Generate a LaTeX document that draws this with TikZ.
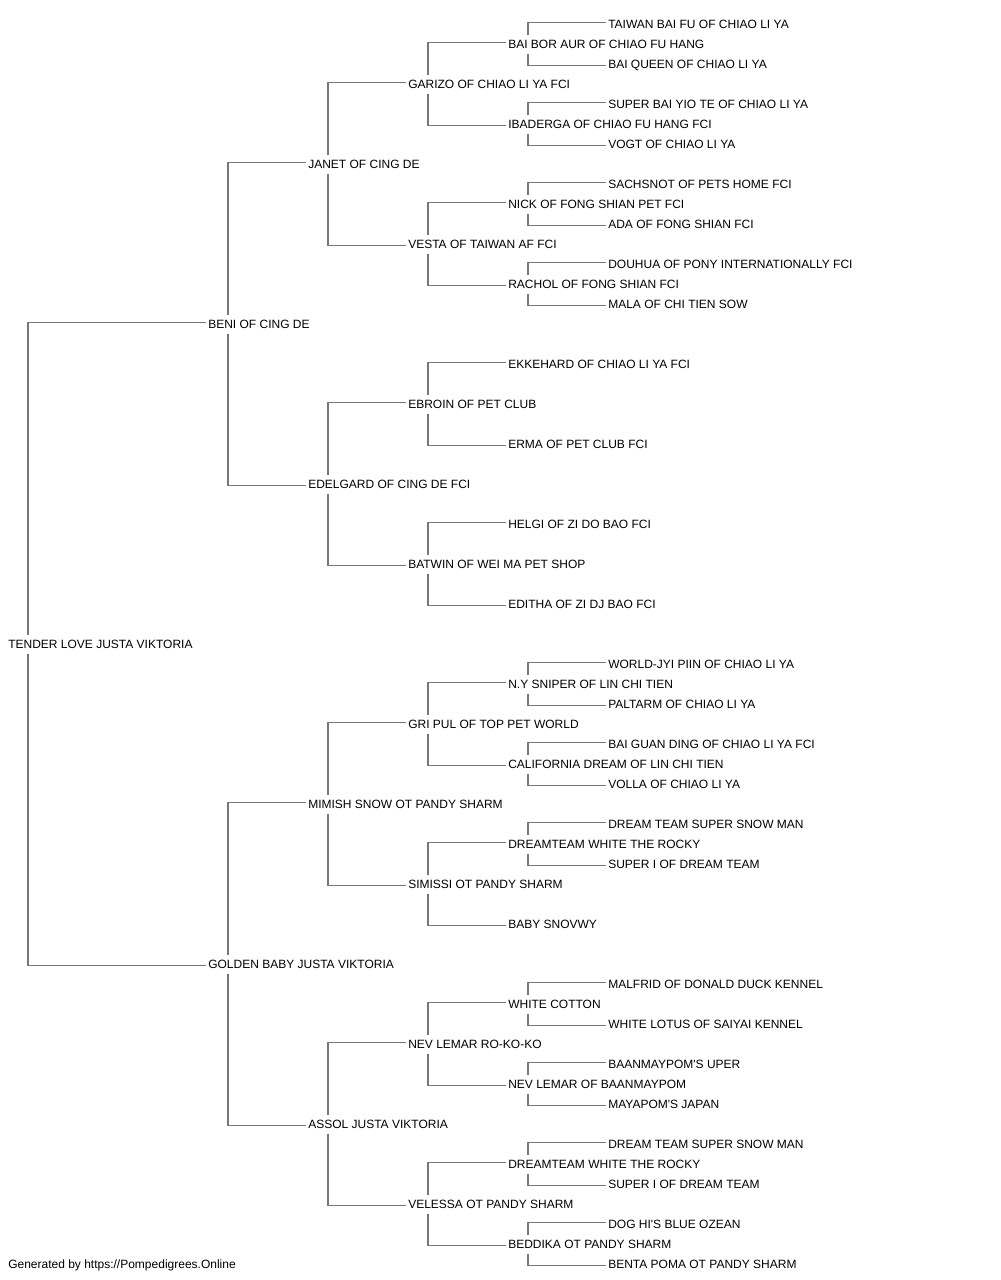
\documentclass[tikz,border=0pt]{standalone}
\usepackage{fontspec}
\newfontfamily\lab{Liberation Sans}
\usetikzlibrary{calc}
\definecolor{lncol}{HTML}{777777}
\tikzset{
  lbl/.style={anchor=west,inner sep=0pt,text height=6.45pt,text depth=0pt,font=\lab\fontsize{9pt}{11pt}\selectfont},
  ln/.style={draw=lncol,line width=1.45pt},
}
\newcommand\lb[4]{\node[lbl] (#1) at (#2,#3+0.8) {#4};}
\newcommand\conn[3]{%
  \draw[ln] ($(#2.west)+(-2.5,-1.8)$) -| ($(#1.west)+(20,-9)$);
  \draw[ln] ($(#1.west)+(20,10)$) |- ($(#3.west)+(-2.5,1.2)$);
}
\begin{document}
\begin{tikzpicture}[x=0.75pt,y=-0.75pt]
\useasboundingbox (0,0) rectangle (1000,1280);
% level 0
\lb{a}{8}{643.5}{TENDER LOVE JUSTA VIKTORIA}
% level 1
\lb{b1}{208}{323.5}{BENI OF CING DE}
\lb{b2}{208}{963.5}{GOLDEN BABY JUSTA VIKTORIA}
% level 2
\lb{c1}{308}{163.5}{JANET OF CING DE}
\lb{c2}{308}{483.5}{EDELGARD OF CING DE FCI}
\lb{c3}{308}{803.5}{MIMISH SNOW OT PANDY SHARM}
\lb{c4}{308}{1123.5}{ASSOL JUSTA VIKTORIA}
% level 3
\lb{d1}{408}{83.5}{GARIZO OF CHIAO LI YA FCI}
\lb{d2}{408}{243.5}{VESTA OF TAIWAN AF FCI}
\lb{d3}{408}{403.5}{EBROIN OF PET CLUB}
\lb{d4}{408}{563.5}{BATWIN OF WEI MA PET SHOP}
\lb{d5}{408}{723.5}{GRI PUL OF TOP PET WORLD}
\lb{d6}{408}{883.5}{SIMISSI OT PANDY SHARM}
\lb{d7}{408}{1043.5}{NEV LEMAR RO-KO-KO}
\lb{d8}{408}{1203.5}{VELESSA OT PANDY SHARM}
% level 4
\lb{e1}{508}{43.5}{BAI BOR AUR OF CHIAO FU HANG}
\lb{e2}{508}{123.5}{IBADERGA OF CHIAO FU HANG FCI}
\lb{e3}{508}{203.5}{NICK OF FONG SHIAN PET FCI}
\lb{e4}{508}{283.5}{RACHOL OF FONG SHIAN FCI}
\lb{e5}{508}{363.5}{EKKEHARD OF CHIAO LI YA FCI}
\lb{e6}{508}{443.5}{ERMA OF PET CLUB FCI}
\lb{e7}{508}{523.5}{HELGI OF ZI DO BAO FCI}
\lb{e8}{508}{603.5}{EDITHA OF ZI DJ BAO FCI}
\lb{e9}{508}{683.5}{N.Y SNIPER OF LIN CHI TIEN}
\lb{e10}{508}{763.5}{CALIFORNIA DREAM OF LIN CHI TIEN}
\lb{e11}{508}{843.5}{DREAMTEAM WHITE THE ROCKY}
\lb{e12}{508}{923.5}{BABY SNOVWY}
\lb{e13}{508}{1003.5}{WHITE COTTON}
\lb{e14}{508}{1083.5}{NEV LEMAR OF BAANMAYPOM}
\lb{e15}{508}{1163.5}{DREAMTEAM WHITE THE ROCKY}
\lb{e16}{508}{1243.5}{BEDDIKA OT PANDY SHARM}
% level 5
\lb{f1s}{608}{23.5}{TAIWAN BAI FU OF CHIAO LI YA}
\lb{f1d}{608}{63.5}{BAI QUEEN OF CHIAO LI YA}
\lb{f2s}{608}{103.5}{SUPER BAI YIO TE OF CHIAO LI YA}
\lb{f2d}{608}{143.5}{VOGT OF CHIAO LI YA}
\lb{f3s}{608}{183.5}{SACHSNOT OF PETS HOME FCI}
\lb{f3d}{608}{223.5}{ADA OF FONG SHIAN FCI}
\lb{f4s}{608}{263.5}{DOUHUA OF PONY INTERNATIONALLY FCI}
\lb{f4d}{608}{303.5}{MALA OF CHI TIEN SOW}
\lb{f9s}{608}{663.5}{WORLD-JYI PIIN OF CHIAO LI YA}
\lb{f9d}{608}{703.5}{PALTARM OF CHIAO LI YA}
\lb{f10s}{608}{743.5}{BAI GUAN DING OF CHIAO LI YA FCI}
\lb{f10d}{608}{783.5}{VOLLA OF CHIAO LI YA}
\lb{f11s}{608}{823.5}{DREAM TEAM SUPER SNOW MAN}
\lb{f11d}{608}{863.5}{SUPER I OF DREAM TEAM}
\lb{f13s}{608}{983.5}{MALFRID OF DONALD DUCK KENNEL}
\lb{f13d}{608}{1023.5}{WHITE LOTUS OF SAIYAI KENNEL}
\lb{f14s}{608}{1063.5}{BAANMAYPOM'S UPER}
\lb{f14d}{608}{1103.5}{MAYAPOM'S JAPAN}
\lb{f15s}{608}{1143.5}{DREAM TEAM SUPER SNOW MAN}
\lb{f15d}{608}{1183.5}{SUPER I OF DREAM TEAM}
\lb{f16s}{608}{1223.5}{DOG HI'S BLUE OZEAN}
\lb{f16d}{608}{1263.5}{BENTA POMA OT PANDY SHARM}
% footer
\node[lbl] (gen) at (8,1264.3) {Generated by https://Pompedigrees.Online};
% connectors
\conn{a}{b1}{b2}
\conn{b1}{c1}{c2}
\conn{b2}{c3}{c4}
\conn{c1}{d1}{d2}
\conn{c2}{d3}{d4}
\conn{c3}{d5}{d6}
\conn{c4}{d7}{d8}
\conn{d1}{e1}{e2}
\conn{d2}{e3}{e4}
\conn{d3}{e5}{e6}
\conn{d4}{e7}{e8}
\conn{d5}{e9}{e10}
\conn{d6}{e11}{e12}
\conn{d7}{e13}{e14}
\conn{d8}{e15}{e16}
\conn{e1}{f1s}{f1d}
\conn{e2}{f2s}{f2d}
\conn{e3}{f3s}{f3d}
\conn{e4}{f4s}{f4d}
\conn{e9}{f9s}{f9d}
\conn{e10}{f10s}{f10d}
\conn{e11}{f11s}{f11d}
\conn{e13}{f13s}{f13d}
\conn{e14}{f14s}{f14d}
\conn{e15}{f15s}{f15d}
\conn{e16}{f16s}{f16d}
\end{tikzpicture}
\end{document}
